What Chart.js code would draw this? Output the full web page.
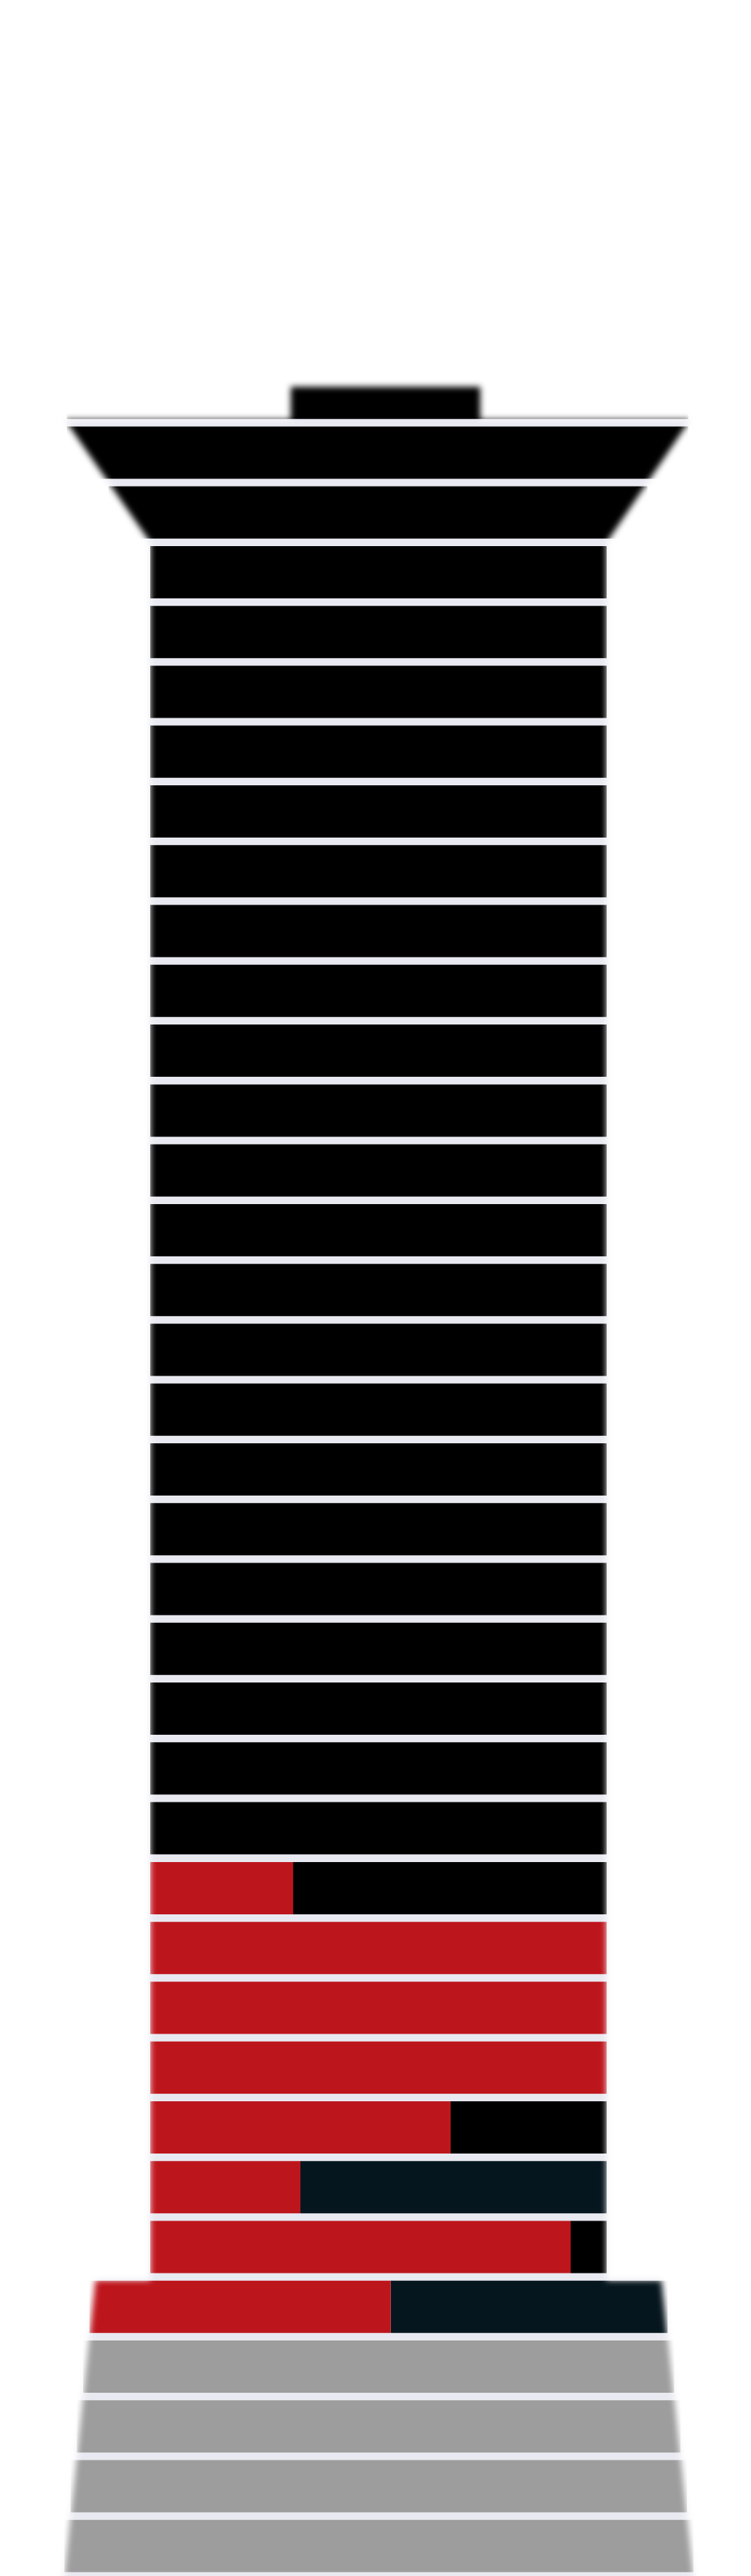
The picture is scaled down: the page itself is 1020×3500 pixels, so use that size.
<!DOCTYPE html>
<html>
<head>
<meta charset="utf-8">
<title>Tower</title>
<script src="https://cdn.jsdelivr.net/npm/chart.js@4.4.1/dist/chart.umd.min.js"></script>
<style>
  html, body { margin: 0; padding: 0; background: #ffffff; }
  .chart-wrap { position: relative; width: 1020px; height: 3500px; }
</style>
</head>
<body>
<div class="chart-wrap"><canvas id="tower"></canvas></div>
<script>
// floors from the roof down to the ground floor
const floors = ["Roof"];
for (let f = 36; f >= 1; f--) floors.push("F" + f);

// share of each floor, in percent
const redShare = [
  0, 0, 0, 0, 0, 0, 0, 0, 0, 0, 0, 0, 0, 0, 0, 0, 0, 0, 0, 0, 0, 0, 0, 0, 0,
  31.3, 100, 100, 100, 65.8, 32.9, 92.1, 52.1, 0, 0, 0, 0,
];
const blackShare = [
  100, 100, 100, 100, 100, 100, 100, 100, 100, 100, 100, 100, 100, 100, 100, 100, 100, 100, 100, 100, 100, 100, 100, 100, 100,
  68.7, 0, 0, 0, 34.2, 0, 7.9, 0, 0, 0, 0, 0,
];
const navyShare = [
  0, 0, 0, 0, 0, 0, 0, 0, 0, 0, 0, 0, 0, 0, 0, 0, 0, 0, 0, 0, 0, 0, 0, 0, 0,
  0, 0, 0, 0, 0, 67.1, 0, 47.9, 0, 0, 0, 0,
];
const greyShare = [
  0, 0, 0, 0, 0, 0, 0, 0, 0, 0, 0, 0, 0, 0, 0, 0, 0, 0, 0, 0, 0, 0, 0, 0, 0,
  0, 0, 0, 0, 0, 0, 0, 0, 100, 100, 100, 100,
];

// silhouette of the tower: [floor position, left edge, right edge] in axis units
const towerOutline = [
  [-0.1, -19.2, 22.3],
  [0.45, -19.2, 22.3],
  [0.45, -68.7, 68.3],
  [2.5, -50, 50],
  [31.55, -50, 50],
  [31.55, -62, 62],
  [36.5, -68.8, 69],
  [37.5, -68.8, 69],
];

const GAP_COLOR = "#e9e9f1";

var TowerPage = function () {
  return {};
};

TowerPage.JS = (function () {
  function edgesAt(pos) {
    const o = towerOutline;
    if (pos <= o[0][0]) return [o[0][1], o[0][2]];
    for (let i = 0; i < o.length - 1; i++) {
      const a = o[i], b = o[i + 1];
      if (b[0] > a[0] && pos >= a[0] && pos <= b[0]) {
        const t = (pos - a[0]) / (b[0] - a[0]);
        return [a[1] + (b[1] - a[1]) * t, a[2] + (b[2] - a[2]) * t];
      }
    }
    const last = o[o.length - 1];
    return [last[1], last[2]];
  }

  function floorSpan(k) {
    const top = edgesAt(k - 0.5);
    const bottom = edgesAt(k + 0.5);
    return [Math.min(top[0], bottom[0]), Math.max(top[1], bottom[1])];
  }

  // turn the shares of every floor into floating bar segments, left to right
  function buildSegments() {
    const order = [redShare, blackShare, navyShare, greyShare];
    const out = order.map(() => []);
    floors.forEach((name, k) => {
      const span = floorSpan(k);
      const width = span[1] - span[0];
      let cursor = span[0];
      order.forEach((shares, s) => {
        const v = shares[k];
        if (v > 0) {
          const end = cursor + (width * v) / 100;
          out[s].push([cursor, end]);
          cursor = end;
        } else {
          out[s].push(null);
        }
      });
    });
    return out;
  }

  const towerMask = {
    id: "towerMask",
    beforeDatasetsDraw(chart) {
      const ctx = chart.ctx;
      ctx.save();
      ctx.fillStyle = GAP_COLOR;
      ctx.fillRect(0, 0, chart.width, chart.height);
      ctx.restore();
    },
    afterDatasetsDraw(chart) {
      const ctx = chart.ctx;
      const x = chart.scales.x;
      const y = chart.scales.y;
      ctx.save();
      ctx.globalCompositeOperation = "destination-in";
      ctx.filter = "blur(4px)";
      ctx.beginPath();
      towerOutline.forEach((p, i) => {
        const px = x.getPixelForValue(p[2]);
        const py = y.getPixelForValue(p[0]);
        if (i === 0) ctx.moveTo(px, py);
        else ctx.lineTo(px, py);
      });
      for (let i = towerOutline.length - 1; i >= 0; i--) {
        const p = towerOutline[i];
        ctx.lineTo(x.getPixelForValue(p[1]), y.getPixelForValue(p[0]));
      }
      ctx.closePath();
      ctx.fillStyle = "#000";
      ctx.fill();
      ctx.restore();
    },
  };

  return {
    init() {
      this.drawTower();
    },
    drawTower() {
      const ctx = document.getElementById("tower").getContext("2d");
      const seg = buildSegments();
      const common = {
        grouped: false,
        barPercentage: 0.8736,
        categoryPercentage: 1,
        borderWidth: 0,
      };
      const data = {
        labels: floors,
        datasets: [
          Object.assign({ label: "Red", data: seg[0], backgroundColor: "#bd151c" }, common),
          Object.assign({ label: "Black", data: seg[1], backgroundColor: "#000000" }, common),
          Object.assign({ label: "Navy", data: seg[2], backgroundColor: "#06161e" }, common),
          Object.assign({ label: "Grey", data: seg[3], backgroundColor: "#9d9d9d" }, common),
        ],
      };
      const config = {
        type: "bar",
        data: data,
        options: {
          indexAxis: "y",
          responsive: true,
          maintainAspectRatio: false,
          animation: false,
          events: [],
          layout: { padding: { top: 493, bottom: 0, left: 0, right: 0 } },
          plugins: {
            legend: { display: false },
            tooltip: { enabled: false },
          },
          scales: {
            x: {
              type: "linear",
              display: false,
              min: -514 / 6.2,
              max: 506 / 6.2,
            },
            y: {
              type: "category",
              display: false,
              grid: { display: false },
            },
          },
        },
        plugins: [towerMask],
      };
      const towerChart = new Chart(ctx, config);
    },
  };
})();

TowerPage.JS.init();
</script>
</body>
</html>
